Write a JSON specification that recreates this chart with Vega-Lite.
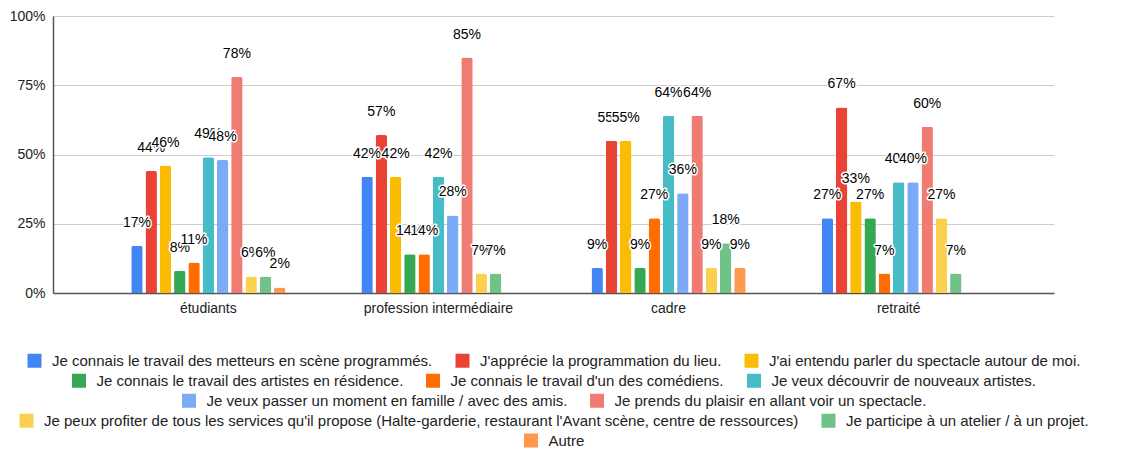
{
  "$schema": "https://vega.github.io/schema/vega-lite/v6.json",
  "width": 1001,
  "height": 277,
  "padding": {"left": 9, "top": 9, "right": 5, "bottom": 2},
  "background": "#ffffff",
  "config": {
    "font": "Liberation Sans",
    "view": {"stroke": null},
    "axis": {"labelFont": "Liberation Sans", "labelFontSize": 14, "labelColor": "#222222", "ticks": false, "tickSize": 0, "title": null},
    "legend": {
      "labelFont": "Liberation Sans",
      "labelFontSize": 15,
      "labelColor": "#222222",
      "labelLimit": 0,
      "symbolType": "square",
      "symbolSize": 196,
      "symbolStrokeWidth": 0,
      "labelOffset": 10,
      "columnPadding": 22,
      "padding": 0,
      "offset": 38,
      "layout": {"bottom": {"anchor": "middle", "direction": "vertical", "center": true, "margin": 4}}
    },
    "style": {
      "halo": {"dy": -23, "baseline": "middle", "align": "center", "fontSize": 14, "font": "Liberation Sans", "fill": "#ffffff", "stroke": "#ffffff", "strokeWidth": 3, "strokeJoin": "round"},
      "lbl": {"dy": -23, "baseline": "middle", "align": "center", "fontSize": 14, "font": "Liberation Sans", "fill": "#222222"}
    }
  },
  "data": {"values": [
    {"group": "étudiants", "series": "Je connais le travail des metteurs en scène programmés.", "value": 0.17},
    {"group": "étudiants", "series": "J'apprécie la programmation du lieu.", "value": 0.44},
    {"group": "étudiants", "series": "J'ai entendu parler du spectacle autour de moi.", "value": 0.46},
    {"group": "étudiants", "series": "Je connais le travail des artistes en résidence.", "value": 0.08},
    {"group": "étudiants", "series": "Je connais le travail d'un des comédiens.", "value": 0.11},
    {"group": "étudiants", "series": "Je veux découvrir de nouveaux artistes.", "value": 0.49},
    {"group": "étudiants", "series": "Je veux passer un moment en famille / avec des amis.", "value": 0.48},
    {"group": "étudiants", "series": "Je prends du plaisir en allant voir un spectacle.", "value": 0.78},
    {"group": "étudiants", "series": "Je peux profiter de tous les services qu'il propose (Halte-garderie, restaurant l'Avant scène, centre de ressources)", "value": 0.06},
    {"group": "étudiants", "series": "Je participe à un atelier / à un projet.", "value": 0.06},
    {"group": "étudiants", "series": "Autre", "value": 0.02},
    {"group": "profession intermédiaire", "series": "Je connais le travail des metteurs en scène programmés.", "value": 0.42},
    {"group": "profession intermédiaire", "series": "J'apprécie la programmation du lieu.", "value": 0.57},
    {"group": "profession intermédiaire", "series": "J'ai entendu parler du spectacle autour de moi.", "value": 0.42},
    {"group": "profession intermédiaire", "series": "Je connais le travail des artistes en résidence.", "value": 0.14},
    {"group": "profession intermédiaire", "series": "Je connais le travail d'un des comédiens.", "value": 0.14},
    {"group": "profession intermédiaire", "series": "Je veux découvrir de nouveaux artistes.", "value": 0.42},
    {"group": "profession intermédiaire", "series": "Je veux passer un moment en famille / avec des amis.", "value": 0.28},
    {"group": "profession intermédiaire", "series": "Je prends du plaisir en allant voir un spectacle.", "value": 0.85},
    {"group": "profession intermédiaire", "series": "Je peux profiter de tous les services qu'il propose (Halte-garderie, restaurant l'Avant scène, centre de ressources)", "value": 0.07},
    {"group": "profession intermédiaire", "series": "Je participe à un atelier / à un projet.", "value": 0.07},
    {"group": "cadre", "series": "Je connais le travail des metteurs en scène programmés.", "value": 0.09},
    {"group": "cadre", "series": "J'apprécie la programmation du lieu.", "value": 0.55},
    {"group": "cadre", "series": "J'ai entendu parler du spectacle autour de moi.", "value": 0.55},
    {"group": "cadre", "series": "Je connais le travail des artistes en résidence.", "value": 0.09},
    {"group": "cadre", "series": "Je connais le travail d'un des comédiens.", "value": 0.27},
    {"group": "cadre", "series": "Je veux découvrir de nouveaux artistes.", "value": 0.64},
    {"group": "cadre", "series": "Je veux passer un moment en famille / avec des amis.", "value": 0.36},
    {"group": "cadre", "series": "Je prends du plaisir en allant voir un spectacle.", "value": 0.64},
    {"group": "cadre", "series": "Je peux profiter de tous les services qu'il propose (Halte-garderie, restaurant l'Avant scène, centre de ressources)", "value": 0.09},
    {"group": "cadre", "series": "Je participe à un atelier / à un projet.", "value": 0.18},
    {"group": "cadre", "series": "Autre", "value": 0.09},
    {"group": "retraité", "series": "Je connais le travail des metteurs en scène programmés.", "value": 0.27},
    {"group": "retraité", "series": "J'apprécie la programmation du lieu.", "value": 0.67},
    {"group": "retraité", "series": "J'ai entendu parler du spectacle autour de moi.", "value": 0.33},
    {"group": "retraité", "series": "Je connais le travail des artistes en résidence.", "value": 0.27},
    {"group": "retraité", "series": "Je connais le travail d'un des comédiens.", "value": 0.07},
    {"group": "retraité", "series": "Je veux découvrir de nouveaux artistes.", "value": 0.40},
    {"group": "retraité", "series": "Je veux passer un moment en famille / avec des amis.", "value": 0.40},
    {"group": "retraité", "series": "Je prends du plaisir en allant voir un spectacle.", "value": 0.60},
    {"group": "retraité", "series": "Je peux profiter de tous les services qu'il propose (Halte-garderie, restaurant l'Avant scène, centre de ressources)", "value": 0.27},
    {"group": "retraité", "series": "Je participe à un atelier / à un projet.", "value": 0.07}
  ]},
  "encoding": {
    "x": {
      "field": "group", "type": "nominal",
      "scale": {"domain": ["étudiants", "profession intermédiaire", "cadre", "retraité"], "paddingInner": 0.33, "paddingOuter": 0.34},
      "axis": {"labelAngle": 0, "labelPadding": 8, "domainColor": "#555555", "domainWidth": 1.5, "grid": false}
    },
    "xOffset": {
      "field": "series", "type": "nominal",
      "scale": {"domain": [
        "Je connais le travail des metteurs en scène programmés.",
        "J'apprécie la programmation du lieu.",
        "J'ai entendu parler du spectacle autour de moi.",
        "Je connais le travail des artistes en résidence.",
        "Je connais le travail d'un des comédiens.",
        "Je veux découvrir de nouveaux artistes.",
        "Je veux passer un moment en famille / avec des amis.",
        "Je prends du plaisir en allant voir un spectacle.",
        "Je peux profiter de tous les services qu'il propose (Halte-garderie, restaurant l'Avant scène, centre de ressources)",
        "Je participe à un atelier / à un projet.",
        "Autre"
      ], "paddingInner": 0.2, "paddingOuter": 0}
    },
    "y": {
      "field": "value", "type": "quantitative",
      "scale": {"domain": [0, 1], "nice": false},
      "axis": {"values": [0, 0.25, 0.5, 0.75, 1], "format": ".0%", "labelPadding": 8, "gridColor": "#cccccc", "domainColor": "#555555", "domainWidth": 1.5}
    }
  },
  "layer": [
    {
      "transform": [{"filter": {"field": "series", "oneOf": ["Je connais le travail des metteurs en scène programmés.", "J'apprécie la programmation du lieu.", "J'ai entendu parler du spectacle autour de moi."]}}],
      "mark": {"type": "bar", "cornerRadiusTopLeft": 2, "cornerRadiusTopRight": 2},
      "encoding": {"color": {"field": "series", "type": "nominal",
        "scale": {"domain": ["Je connais le travail des metteurs en scène programmés.", "J'apprécie la programmation du lieu.", "J'ai entendu parler du spectacle autour de moi."], "range": ["#4285F4", "#EA4335", "#FBBC04"]},
        "legend": {"orient": "bottom", "direction": "horizontal", "title": null}}}
    },
    {
      "transform": [{"filter": {"field": "series", "oneOf": ["Je connais le travail des artistes en résidence.", "Je connais le travail d'un des comédiens.", "Je veux découvrir de nouveaux artistes."]}}],
      "mark": {"type": "bar", "cornerRadiusTopLeft": 2, "cornerRadiusTopRight": 2},
      "encoding": {"color": {"field": "series", "type": "nominal",
        "scale": {"domain": ["Je connais le travail des artistes en résidence.", "Je connais le travail d'un des comédiens.", "Je veux découvrir de nouveaux artistes."], "range": ["#34A853", "#FF6D01", "#46BDC6"]},
        "legend": {"orient": "bottom", "direction": "horizontal", "title": null}}}
    },
    {
      "transform": [{"filter": {"field": "series", "oneOf": ["Je veux passer un moment en famille / avec des amis.", "Je prends du plaisir en allant voir un spectacle."]}}],
      "mark": {"type": "bar", "cornerRadiusTopLeft": 2, "cornerRadiusTopRight": 2},
      "encoding": {"color": {"field": "series", "type": "nominal",
        "scale": {"domain": ["Je veux passer un moment en famille / avec des amis.", "Je prends du plaisir en allant voir un spectacle."], "range": ["#7BAAF7", "#F07B72"]},
        "legend": {"orient": "bottom", "direction": "horizontal", "title": null}}}
    },
    {
      "transform": [{"filter": {"field": "series", "oneOf": ["Je peux profiter de tous les services qu'il propose (Halte-garderie, restaurant l'Avant scène, centre de ressources)", "Je participe à un atelier / à un projet."]}}],
      "mark": {"type": "bar", "cornerRadiusTopLeft": 2, "cornerRadiusTopRight": 2},
      "encoding": {"color": {"field": "series", "type": "nominal",
        "scale": {"domain": ["Je peux profiter de tous les services qu'il propose (Halte-garderie, restaurant l'Avant scène, centre de ressources)", "Je participe à un atelier / à un projet."], "range": ["#FCD04F", "#71C287"]},
        "legend": {"orient": "bottom", "direction": "horizontal", "title": null}}}
    },
    {
      "transform": [{"filter": {"field": "series", "oneOf": ["Autre"]}}],
      "mark": {"type": "bar", "cornerRadiusTopLeft": 2, "cornerRadiusTopRight": 2},
      "encoding": {"color": {"field": "series", "type": "nominal",
        "scale": {"domain": ["Autre"], "range": ["#FF994D"]},
        "legend": {"orient": "bottom", "direction": "horizontal", "title": null}}}
    },
    {"transform": [{"filter": {"field": "series", "equal": "Je connais le travail des metteurs en scène programmés."}}], "mark": {"type": "text", "style": "halo"}, "encoding": {"text": {"field": "value", "format": ".0%"}}},
    {"transform": [{"filter": {"field": "series", "equal": "Je connais le travail des metteurs en scène programmés."}}], "mark": {"type": "text", "style": "lbl"}, "encoding": {"text": {"field": "value", "format": ".0%"}}},
    {"transform": [{"filter": {"field": "series", "equal": "J'apprécie la programmation du lieu."}}], "mark": {"type": "text", "style": "halo"}, "encoding": {"text": {"field": "value", "format": ".0%"}}},
    {"transform": [{"filter": {"field": "series", "equal": "J'apprécie la programmation du lieu."}}], "mark": {"type": "text", "style": "lbl"}, "encoding": {"text": {"field": "value", "format": ".0%"}}},
    {"transform": [{"filter": {"field": "series", "equal": "J'ai entendu parler du spectacle autour de moi."}}], "mark": {"type": "text", "style": "halo"}, "encoding": {"text": {"field": "value", "format": ".0%"}}},
    {"transform": [{"filter": {"field": "series", "equal": "J'ai entendu parler du spectacle autour de moi."}}], "mark": {"type": "text", "style": "lbl"}, "encoding": {"text": {"field": "value", "format": ".0%"}}},
    {"transform": [{"filter": {"field": "series", "equal": "Je connais le travail des artistes en résidence."}}], "mark": {"type": "text", "style": "halo"}, "encoding": {"text": {"field": "value", "format": ".0%"}}},
    {"transform": [{"filter": {"field": "series", "equal": "Je connais le travail des artistes en résidence."}}], "mark": {"type": "text", "style": "lbl"}, "encoding": {"text": {"field": "value", "format": ".0%"}}},
    {"transform": [{"filter": {"field": "series", "equal": "Je connais le travail d'un des comédiens."}}], "mark": {"type": "text", "style": "halo"}, "encoding": {"text": {"field": "value", "format": ".0%"}}},
    {"transform": [{"filter": {"field": "series", "equal": "Je connais le travail d'un des comédiens."}}], "mark": {"type": "text", "style": "lbl"}, "encoding": {"text": {"field": "value", "format": ".0%"}}},
    {"transform": [{"filter": {"field": "series", "equal": "Je veux découvrir de nouveaux artistes."}}], "mark": {"type": "text", "style": "halo"}, "encoding": {"text": {"field": "value", "format": ".0%"}}},
    {"transform": [{"filter": {"field": "series", "equal": "Je veux découvrir de nouveaux artistes."}}], "mark": {"type": "text", "style": "lbl"}, "encoding": {"text": {"field": "value", "format": ".0%"}}},
    {"transform": [{"filter": {"field": "series", "equal": "Je veux passer un moment en famille / avec des amis."}}], "mark": {"type": "text", "style": "halo"}, "encoding": {"text": {"field": "value", "format": ".0%"}}},
    {"transform": [{"filter": {"field": "series", "equal": "Je veux passer un moment en famille / avec des amis."}}], "mark": {"type": "text", "style": "lbl"}, "encoding": {"text": {"field": "value", "format": ".0%"}}},
    {"transform": [{"filter": {"field": "series", "equal": "Je prends du plaisir en allant voir un spectacle."}}], "mark": {"type": "text", "style": "halo"}, "encoding": {"text": {"field": "value", "format": ".0%"}}},
    {"transform": [{"filter": {"field": "series", "equal": "Je prends du plaisir en allant voir un spectacle."}}], "mark": {"type": "text", "style": "lbl"}, "encoding": {"text": {"field": "value", "format": ".0%"}}},
    {"transform": [{"filter": {"field": "series", "equal": "Je peux profiter de tous les services qu'il propose (Halte-garderie, restaurant l'Avant scène, centre de ressources)"}}], "mark": {"type": "text", "style": "halo"}, "encoding": {"text": {"field": "value", "format": ".0%"}}},
    {"transform": [{"filter": {"field": "series", "equal": "Je peux profiter de tous les services qu'il propose (Halte-garderie, restaurant l'Avant scène, centre de ressources)"}}], "mark": {"type": "text", "style": "lbl"}, "encoding": {"text": {"field": "value", "format": ".0%"}}},
    {"transform": [{"filter": {"field": "series", "equal": "Je participe à un atelier / à un projet."}}], "mark": {"type": "text", "style": "halo"}, "encoding": {"text": {"field": "value", "format": ".0%"}}},
    {"transform": [{"filter": {"field": "series", "equal": "Je participe à un atelier / à un projet."}}], "mark": {"type": "text", "style": "lbl"}, "encoding": {"text": {"field": "value", "format": ".0%"}}},
    {"transform": [{"filter": {"field": "series", "equal": "Autre"}}], "mark": {"type": "text", "style": "halo"}, "encoding": {"text": {"field": "value", "format": ".0%"}}},
    {"transform": [{"filter": {"field": "series", "equal": "Autre"}}], "mark": {"type": "text", "style": "lbl"}, "encoding": {"text": {"field": "value", "format": ".0%"}}}
  ],
  "resolve": {"scale": {"color": "independent"}, "legend": {"color": "independent"}}
}
